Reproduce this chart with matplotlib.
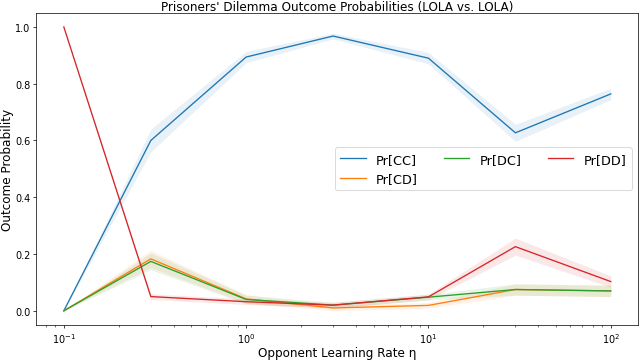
import numpy as np
import matplotlib
matplotlib.use("Agg")
import matplotlib.pyplot as plt

eta = [0.1, 0.3, 1, 3, 10, 30, 100]
pr_cc = [0.0, 0.60, 0.894, 0.968, 0.89, 0.627, 0.764]
pr_cd = [0.0, 0.183, 0.042, 0.01, 0.019, 0.075, 0.07]
pr_dc = [0.0, 0.174, 0.04, 0.02, 0.048, 0.075, 0.07]
pr_dd = [1.0, 0.05, 0.032, 0.02, 0.049, 0.226, 0.103]
sd_cc = [0.0, 0.04, 0.02, 0.01, 0.02, 0.03, 0.02]
sd_cd = [0.0, 0.03, 0.015, 0.01, 0.01, 0.02, 0.02]
sd_dc = [0.0, 0.03, 0.015, 0.01, 0.01, 0.02, 0.02]
sd_dd = [0.0, 0.01, 0.01, 0.01, 0.01, 0.03, 0.02]

labels = ["Pr[CC]", "Pr[CD]", "Pr[DC]", "Pr[DD]"]
series = [pr_cc, pr_cd, pr_dc, pr_dd]
sds = [sd_cc, sd_cd, sd_dc, sd_dd]
colors = ["C0", "C1", "C2", "C3"]

plt.rcParams["font.size"] = 11
fig, ax = plt.subplots(figsize=(10, 5.64), dpi=64)
for y, s, c, l in zip(series, sds, colors, labels):
    y = np.array(y); s = np.array(s)
    ax.plot(eta, y, color=c, label=l, lw=1.5)
    ax.fill_between(eta, y - s, y + s, color=c, alpha=0.1, lw=0)
ax.set_xscale("log")
ax.set_xlabel("Opponent Learning Rate η", fontsize=13.5, labelpad=1)
ax.set_ylabel("Outcome Probability", fontsize=13.5, labelpad=1)
ax.set_title("Prisoners' Dilemma Outcome Probabilities (LOLA vs. LOLA)",
             fontsize=13.5, pad=2)
ax.legend(ncol=3, loc="center right", fontsize=14.5)
fig.subplots_adjust(left=0.057, right=0.997, top=0.962, bottom=0.097)
fig.savefig("out.png", dpi=64)
